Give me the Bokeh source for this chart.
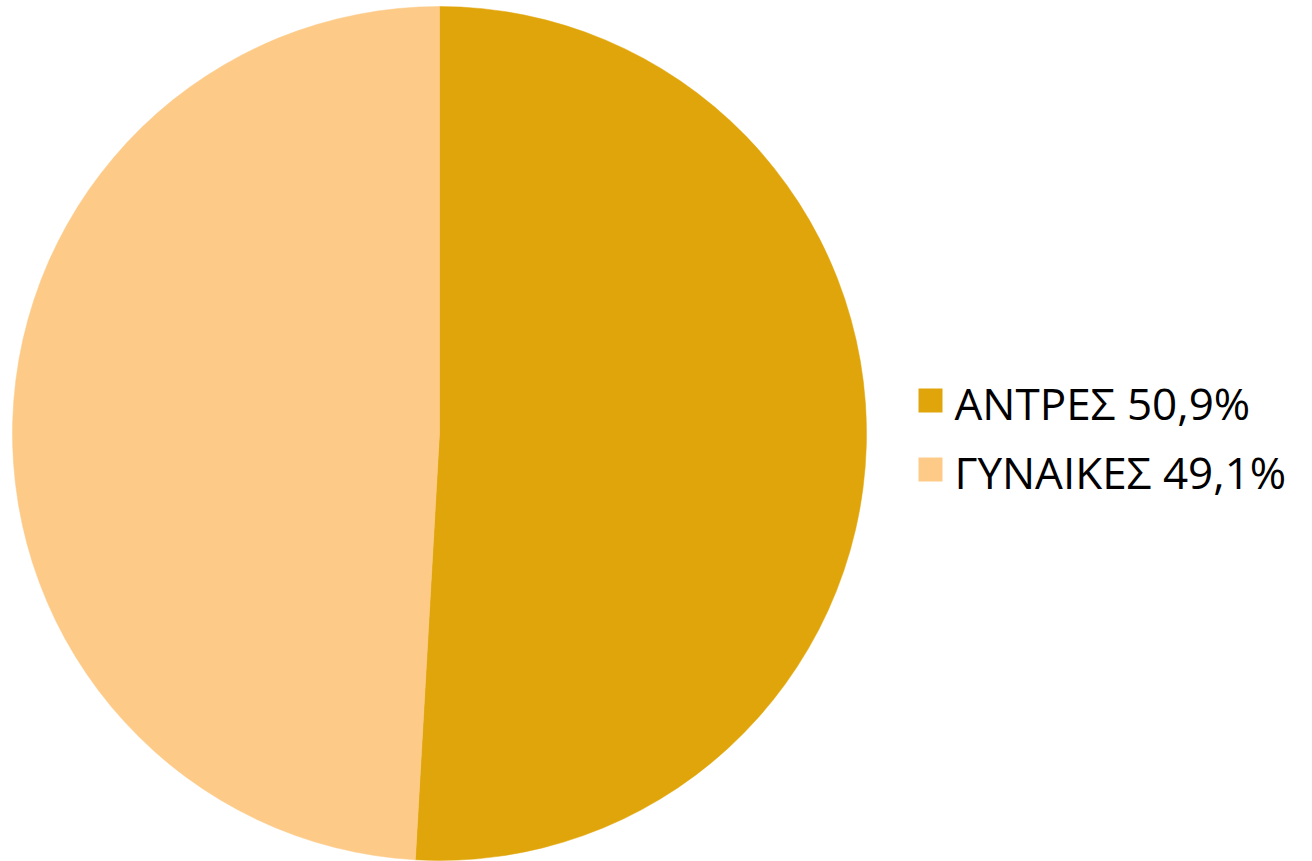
import math
from bokeh.plotting import figure
from bokeh.models import Range1d, ColumnDataSource
from bokeh.core.properties import value
from bokeh.embed import file_html
from bokeh.resources import INLINE

categories = ["ΑΝΤΡΕΣ", "ΓΥΝΑΙΚΕΣ"]
shares = [50.9, 49.1]
colors = ["#E0A50A", "#FDCA87"]

W, H = 1312, 861
p = figure(width=W, height=H, output_backend="svg", toolbar_location=None,
           x_range=Range1d(0, W), y_range=Range1d(0, H), min_border=0)
p.axis.visible = False
p.grid.visible = False
p.outline_line_color = None
p.background_fill_color = "white"
p.border_fill_color = "white"

total = sum(shares)
starts, ends = [], []
acc = 0.0
for s in shares:
    starts.append(math.pi / 2 - 2 * math.pi * acc / total)
    acc += s
    ends.append(math.pi / 2 - 2 * math.pi * acc / total)

cx, cy, r = 439, H - 433, 427
src = ColumnDataSource(dict(start=starts, end=ends, color=colors))
p.wedge(x=cx, y=cy, radius=r, start_angle="start", end_angle="end",
        direction="clock", fill_color="color", line_color="color", line_width=0.5,
        source=src)

labels = [f"{c} {v:.1f}%".replace(".", ",") for c, v in zip(categories, shares)]
sq_y = [H - 400, H - 469]
p.rect(x=[930, 930], y=sq_y, width=24, height=24, fill_color=colors, line_color=None)
p.text(x=[954, 954], y=[H - 402, H - 471], text=labels, text_font=value("Open Sans"),
       text_font_size="44px", text_baseline="middle", text_align="left",
       text_color="#000000")

open("out.html", "w").write(file_html(p, INLINE))
